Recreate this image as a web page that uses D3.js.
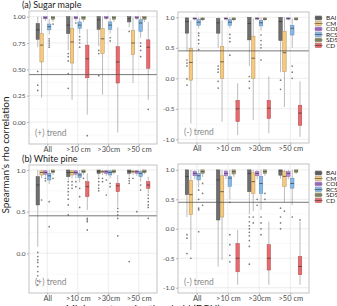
<!DOCTYPE html>
<html>
<head>
<meta charset="utf-8">
<script src="https://cdn.jsdelivr.net/npm/d3@7"></script>
<style>
  body { margin: 0; background: #fff; }
  text { font-family: Lato, "Open Sans", sans-serif; }
</style>
</head>
<body>
<div id="chart"></div>
<script>
// Chart size
var svgWidth = 337;
var svgHeight = 306;

// Categories
var groups = ["All", ">10 cm", ">30cm", ">50 cm"];
var seriesNames = ["BAI", "CM", "COD", "RCS", "SDS", "CD"];
var seriesColors = ["#6e6e6e", "#f6c97e", "#b885df", "#84b9ea", "#a3a27b", "#e9696d"];

// critical rho (horizontal reference line)
var critRho = 0.45;

// Box stats per group, per series: [lowWhisker, q1, median, q3, highWhisker]
// (a) Sugar maple, (+) trend
var mapleUpBoxes = [
  [[0.71, 0.785, 0.875, 0.935, 1.0], [0.23, 0.57, 0.73, 0.84, 1.0], [0.96, 0.98, 0.99, 1.0, 1.0], [0.83, 0.875, 0.905, 0.93, 0.98], [0.95, 0.975, 0.99, 1.0, 1.0], null],
  [[0.68, 0.84, 0.92, 1.0, 1.0], [0.21, 0.56, 0.76, 0.89, 1.0], [0.96, 0.98, 0.99, 1.0, 1.0], [0.84, 0.89, 0.92, 0.95, 0.99], [0.95, 0.975, 0.99, 1.0, 1.0], [0.07, 0.42, 0.60, 0.73, 0.88]],
  [[0.72, 0.88, 0.97, 1.0, 1.0], [0.26, 0.65, 0.79, 0.89, 1.0], [0.97, 0.985, 0.99, 1.0, 1.0], [0.84, 0.88, 0.92, 0.95, 0.99], [0.95, 0.975, 0.99, 1.0, 1.0], [-0.10, 0.37, 0.57, 0.715, 0.9]],
  [[0.9, 0.95, 0.98, 1.0, 1.0], [0.37, 0.64, 0.75, 0.87, 1.0], [0.97, 0.985, 0.99, 1.0, 1.0], [0.8, 0.86, 0.94, 0.97, 1.0], [0.95, 0.975, 0.99, 1.0, 1.0], [0.21, 0.51, 0.71, 0.78, 0.95]]
];
var mapleUpOutliers = [
  [[0.48, 0.35, 0.30], [], [], [0.79, 0.77, 0.75, 0.73, 0.71], [0.93], []],
  [[0.65, 0.62, 0.58, 0.46, 0.32], [], [0.94], [0.81, 0.78, 0.75, 0.71], [], [-0.13]],
  [[0.68, 0.65, 0.44], [], [], [0.8, 0.77], [], []],
  [[0.86], [], [], [0.75, 0.72, 0.68, 0.62], [], [0.12]]
];

// (a) Sugar maple, (-) trend
var mapleDownBoxes = [
  [[0.45, 0.74, 0.93, 0.99, 1.0], [-0.74, -0.03, 0.26, 0.49, 0.95], [0.95, 0.97, 0.98, 0.99, 1.0], [0.82, 0.87, 0.92, 0.96, 1.0], [0.94, 0.96, 0.97, 0.99, 1.0], null],
  [[0.5, 0.74, 0.91, 0.98, 1.0], [-0.71, 0.0, 0.27, 0.52, 0.95], [0.95, 0.97, 0.98, 0.99, 1.0], [0.82, 0.87, 0.92, 0.96, 1.0], [0.94, 0.96, 0.97, 0.99, 1.0], [-0.93, -0.71, -0.50, -0.36, -0.08]],
  [[0.2, 0.63, 0.9, 1.0, 1.0], [-0.68, 0.0, 0.33, 0.69, 0.98], [0.95, 0.97, 0.98, 0.99, 1.0], [0.78, 0.86, 0.91, 0.95, 1.0], [0.94, 0.96, 0.97, 0.99, 1.0], [-0.9, -0.66, -0.49, -0.36, 0.03]],
  [[0.1, 0.62, 0.93, 1.0, 1.0], [-0.47, 0.11, 0.42, 0.77, 1.0], [0.95, 0.97, 0.98, 0.99, 1.0], [0.5, 0.71, 0.82, 0.87, 0.98], [0.94, 0.96, 0.97, 0.99, 1.0], [-0.96, -0.77, -0.57, -0.44, -0.05]]
];
var mapleDownOutliers = [
  [[0.3, 0.25, 0.2, -0.01, -0.11], [], [], [0.74, 0.70, 0.63, 0.57, 0.47], [], []],
  [[0.2, 0.15, 0.1, -0.05, -0.16], [], [], [0.72, 0.66, 0.6, 0.38], [], []],
  [[0.03, -0.05, -0.16], [], [], [0.71, 0.62, 0.55, 0.5, 0.30], [], []],
  [[-0.03, -0.18], [], [], [0.2, 0.1, 0.0], [], []]
];

// (b) White pine, (+) trend
var pineUpBoxes = [
  [[0.08, 0.58, 0.82, 0.92, 1.0], [0.9, 0.94, 0.97, 0.99, 1.0], [0.92, 0.95, 0.97, 0.99, 1.0], [0.83, 0.88, 0.93, 0.96, 1.0], [0.94, 0.97, 0.98, 1.0, 1.0], null],
  [[0.88, 0.92, 0.97, 1.0, 1.0], [0.9, 0.94, 0.97, 0.99, 1.0], [0.9, 0.95, 0.97, 0.99, 1.0], [0.85, 0.91, 0.94, 0.96, 1.0], [0.94, 0.97, 0.98, 1.0, 1.0], [0.52, 0.68, 0.80, 0.86, 0.96]],
  [[0.92, 0.96, 0.98, 1.0, 1.0], [0.94, 0.97, 0.98, 0.99, 1.0], [0.93, 0.96, 0.98, 0.99, 1.0], [0.9, 0.94, 0.97, 0.99, 1.0], [0.95, 0.97, 0.98, 1.0, 1.0], [0.56, 0.74, 0.81, 0.84, 0.94]],
  [[0.92, 0.96, 0.98, 1.0, 1.0], [0.94, 0.97, 0.98, 0.99, 1.0], [0.93, 0.96, 0.98, 0.99, 1.0], [0.86, 0.92, 0.96, 0.98, 1.0], [0.95, 0.97, 0.98, 1.0, 1.0], [0.72, 0.78, 0.82, 0.86, 0.92]]
];
var pineUpOutliers = [
  [[0.01, -0.04, -0.08, -0.11, -0.16, -0.22, -0.27, -0.33, -0.38], [0.64], [0.9, 0.87], [0.62, 0.32], [0.9], []],
  [[0.86, 0.82, 0.78, 0.74, 0.70, 0.65, 0.58, 0.46], [0.86, 0.82, 0.78], [0.86, 0.8], [0.78, 0.68, 0.55], [0.9], [0.42, 0.40, 0.38, 0.28]],
  [[0.9, 0.86, 0.82, 0.78, 0.75], [0.9, 0.86], [0.88, 0.7], [0.84, 0.8], [], [0.54, 0.50, 0.46, 0.42, 0.21]],
  [[0.9, 0.87, 0.84, -0.1], [0.9], [0.5], [0.82, 0.76], [], [0.70, 0.66, 0.62, 0.58, 0.55, 0.42]]
];

// (b) White pine, (-) trend
var pineDownBoxes = [
  [[0.2, 0.58, 0.89, 1.0, 1.0], [-0.36, 0.24, 0.58, 0.82, 1.0], [0.84, 0.9, 0.94, 0.97, 1.0], [0.7, 0.83, 0.9, 0.94, 1.0], [0.88, 0.94, 0.97, 1.0, 1.0], null],
  [[-0.64, 0.15, 0.83, 1.0, 1.0], [-0.53, 0.2, 0.63, 0.9, 1.0], [0.84, 0.9, 0.94, 0.98, 1.0], [0.5, 0.72, 0.86, 0.89, 1.0], [0.88, 0.93, 0.97, 1.0, 1.0], [-0.95, -0.73, -0.5, -0.25, -0.02]],
  [[0.25, 0.63, 0.94, 1.0, 1.0], [0.3, 0.6, 0.8, 0.95, 1.0], [0.84, 0.9, 0.94, 0.97, 1.0], [0.32, 0.6, 0.77, 0.89, 1.0], [0.9, 0.94, 0.97, 1.0, 1.0], [-0.95, -0.7, -0.5, -0.27, 0.12]],
  [[0.85, 0.91, 0.98, 1.0, 1.0], [0.45, 0.72, 0.89, 0.97, 1.0], [0.84, 0.89, 0.94, 0.97, 1.0], [0.4, 0.69, 0.77, 0.86, 1.0], [0.93, 0.96, 0.98, 1.0, 1.0], [-0.95, -0.78, -0.64, -0.47, 0.12]]
];
var pineDownOutliers = [
  [[-0.1, -0.16, -0.42], [-0.5], [], [0.66, 0.5, 0.35, 0.32, -0.05], [0.77, 0.6, 0.4], []],
  [[], [], [], [0.45, -0.1, -0.27, -0.45, -0.56], [], []],
  [[0.2, 0.12, 0.05, 0.0, -0.06, -0.12, -0.2, -0.3, -0.6], [0.2, 0.1], [0.5, 0.4], [0.2, 0.1, 0.0, -0.1], [0.6, 0.5], []],
  [[0.35, 0.2, 0.1, 0.0], [0.3], [], [0.2], [], [0.15]]
];

// Tick values
var ticksQuarter = [0, 0.25, 0.5, 0.75, 1];
var ticksHalfFull = [-1, -0.5, 0, 0.5, 1];
var ticksHalfUp = [0, 0.5, 1];

// Panel layout
var panels = [
  { title: "(a) Sugar maple", boxes: mapleUpBoxes, outliers: mapleUpOutliers, trend: "(+) trend",
    left: 29, right: 157, top: 11, bottom: 144, domain: [-0.209, 1.054], ticks: ticksQuarter, fmt: ".2f" },
  { boxes: mapleDownBoxes, outliers: mapleDownOutliers, trend: "(-) trend",
    left: 178, right: 309, top: 12, bottom: 143, domain: [-1.06, 1.087], ticks: ticksHalfFull, fmt: ".1f", legendY: 18 },
  { title: "(b) White pine", boxes: pineUpBoxes, outliers: pineUpOutliers, trend: "(+) trend",
    left: 29, right: 157, top: 165, bottom: 293, domain: [-0.477, 1.06], ticks: ticksHalfUp, fmt: ".1f" },
  { boxes: pineDownBoxes, outliers: pineDownOutliers, trend: "(-) trend",
    left: 178, right: 309, top: 164, bottom: 293, domain: [-1.09, 1.10], ticks: ticksHalfFull, fmt: ".1f", legendY: 173 }
];

var svg = d3.select("#chart")
  .append("svg")
  .attr("width", svgWidth)
  .attr("height", svgHeight);

svg.append("rect").attr("width", svgWidth).attr("height", svgHeight).attr("fill", "#fff");

panels.forEach(drawPanel);

// Shared axis titles
svg.append("text")
  .attr("transform", "translate(9, 155) rotate(-90)")
  .attr("text-anchor", "middle")
  .attr("font-size", "10px")
  .attr("fill", "#1a1a1a")
  .text("Spearman\u2019s rho correlation");

// x title sits mostly below the visible area, as in the cropped original
svg.append("text")
  .attr("x", 143)
  .attr("y", 312)
  .attr("text-anchor", "middle")
  .attr("font-size", "10px")
  .attr("fill", "#1a1a1a")
  .text("Minimum tree size threshold (DBH)");

function drawPanel(p) {
  var g = svg.append("g");

  var x = d3.scalePoint().domain(groups).range([p.left, p.right]).padding(0.6);
  var inner = d3.scaleBand().domain(seriesNames)
    .range([-0.375 * x.step(), 0.375 * x.step()]);
  var y = d3.scaleLinear().domain(p.domain).range([p.bottom, p.top]);

  // minor grid
  var minor = [];
  for (var i = 0; i < p.ticks.length - 1; i++) minor.push((p.ticks[i] + p.ticks[i + 1]) / 2);
  var step = p.ticks[1] - p.ticks[0];
  minor.push(p.ticks[0] - step / 2, p.ticks[p.ticks.length - 1] + step / 2);
  minor = minor.filter(function (v) { return v > p.domain[0] && v < p.domain[1]; });

  g.selectAll(".minor").data(minor).enter().append("line")
    .attr("x1", p.left).attr("x2", p.right)
    .attr("y1", function (d) { return y(d); }).attr("y2", function (d) { return y(d); })
    .attr("stroke", "#f2f2f2").attr("stroke-width", 0.5);

  g.selectAll(".major").data(p.ticks).enter().append("line")
    .attr("x1", p.left).attr("x2", p.right)
    .attr("y1", function (d) { return y(d); }).attr("y2", function (d) { return y(d); })
    .attr("stroke", "#e3e3e3").attr("stroke-width", 0.6);

  g.selectAll(".vgrid").data(groups).enter().append("line")
    .attr("x1", function (d) { return x(d); }).attr("x2", function (d) { return x(d); })
    .attr("y1", p.top).attr("y2", p.bottom)
    .attr("stroke", "#e3e3e3").attr("stroke-width", 0.6);

  // boxes
  var bw = inner.bandwidth();
  groups.forEach(function (grp, gi) {
    seriesNames.forEach(function (s, si) {
      var b = p.boxes[gi][si];
      if (!b) return;
      var cx = x(grp) + inner(s) + bw / 2;
      var fill = seriesColors[si];
      var edge = d3.color(fill).darker(0.9).formatHex();

      g.append("line")
        .attr("x1", cx).attr("x2", cx)
        .attr("y1", y(b[0])).attr("y2", y(b[1]))
        .attr("stroke", "#8e8e8e").attr("stroke-width", 0.6);
      g.append("line")
        .attr("x1", cx).attr("x2", cx)
        .attr("y1", y(b[3])).attr("y2", y(b[4]))
        .attr("stroke", "#8e8e8e").attr("stroke-width", 0.6);

      g.append("rect")
        .attr("x", cx - bw / 2 + 0.2).attr("width", bw - 0.4)
        .attr("y", y(b[3])).attr("height", Math.max(0.8, y(b[1]) - y(b[3])))
        .attr("fill", fill).attr("stroke", edge).attr("stroke-width", 0.5);

      g.append("line")
        .attr("x1", cx - bw / 2 + 0.2).attr("x2", cx + bw / 2 - 0.2)
        .attr("y1", y(b[2])).attr("y2", y(b[2]))
        .attr("stroke", "#333").attr("stroke-width", 0.7);

      g.selectAll(null).data(p.outliers[gi][si]).enter().append("circle")
        .attr("cx", cx).attr("cy", function (d) { return y(d); })
        .attr("r", 0.85)
        .attr("fill", "#7a7a7a");
    });
  });

  // critical rho line
  g.append("line")
    .attr("x1", p.left).attr("x2", p.right)
    .attr("y1", y(critRho)).attr("y2", y(critRho))
    .attr("stroke", "#555").attr("stroke-width", 0.8);

  // panel border
  g.append("rect")
    .attr("x", p.left).attr("y", p.top)
    .attr("width", p.right - p.left).attr("height", p.bottom - p.top)
    .attr("fill", "none").attr("stroke", "#b5b5b5").attr("stroke-width", 0.8);

  // trend label
  g.append("text")
    .attr("x", p.left + 6).attr("y", p.bottom - 8)
    .attr("font-size", "8.5px").attr("fill", "#8a8a8a")
    .text(p.trend);

  // axes
  var fmt = d3.format(p.fmt);
  var leftAxis = d3.axisLeft(y).tickValues(p.ticks).tickSize(2).tickPadding(1.5)
    .tickFormat(function (d) { return fmt(d).replace("\u2212", "-"); });
  var ya = g.append("g").attr("transform", "translate(" + p.left + ",0)").call(leftAxis);
  ya.select(".domain").remove();
  ya.selectAll("line").attr("stroke", "#b5b5b5");
  ya.selectAll("text").attr("font-size", "6.5px").attr("fill", "#4d4d4d");
  ya.attr("font-family", null);

  var bottomAxis = d3.axisBottom(x).tickSize(2).tickPadding(0.3);
  var xa = g.append("g").attr("transform", "translate(0," + p.bottom + ")").call(bottomAxis);
  xa.select(".domain").remove();
  xa.selectAll("line").attr("stroke", "#b5b5b5");
  xa.selectAll("text").attr("font-size", "7.5px").attr("fill", "#4d4d4d");
  xa.attr("font-family", null);

  if (p.title) {
    g.append("text")
      .attr("x", 22).attr("y", p.top - 3)
      .attr("font-size", "9px").attr("fill", "#1a1a1a")
      .text(p.title);
  }

  if (p.legendY !== undefined) {
    var lg = svg.append("g");
    seriesNames.forEach(function (s, si) {
      var ly = p.legendY + si * 5.5;
      lg.append("line")
        .attr("x1", 314).attr("x2", 323).attr("y1", ly).attr("y2", ly)
        .attr("stroke", "#8e8e8e").attr("stroke-width", 0.6);
      lg.append("rect")
        .attr("x", 315.5).attr("y", ly - 2).attr("width", 6).attr("height", 4)
        .attr("fill", seriesColors[si])
        .attr("stroke", d3.color(seriesColors[si]).darker(0.9).formatHex())
        .attr("stroke-width", 0.5);
      lg.append("line")
        .attr("x1", 315.5).attr("x2", 321.5).attr("y1", ly).attr("y2", ly)
        .attr("stroke", "#333").attr("stroke-width", 0.6);
      lg.append("text")
        .attr("x", 326).attr("y", ly + 2.3)
        .attr("font-size", "6.5px").attr("fill", "#1a1a1a")
        .text(s);
    });
  }
}
</script>
</body>
</html>
